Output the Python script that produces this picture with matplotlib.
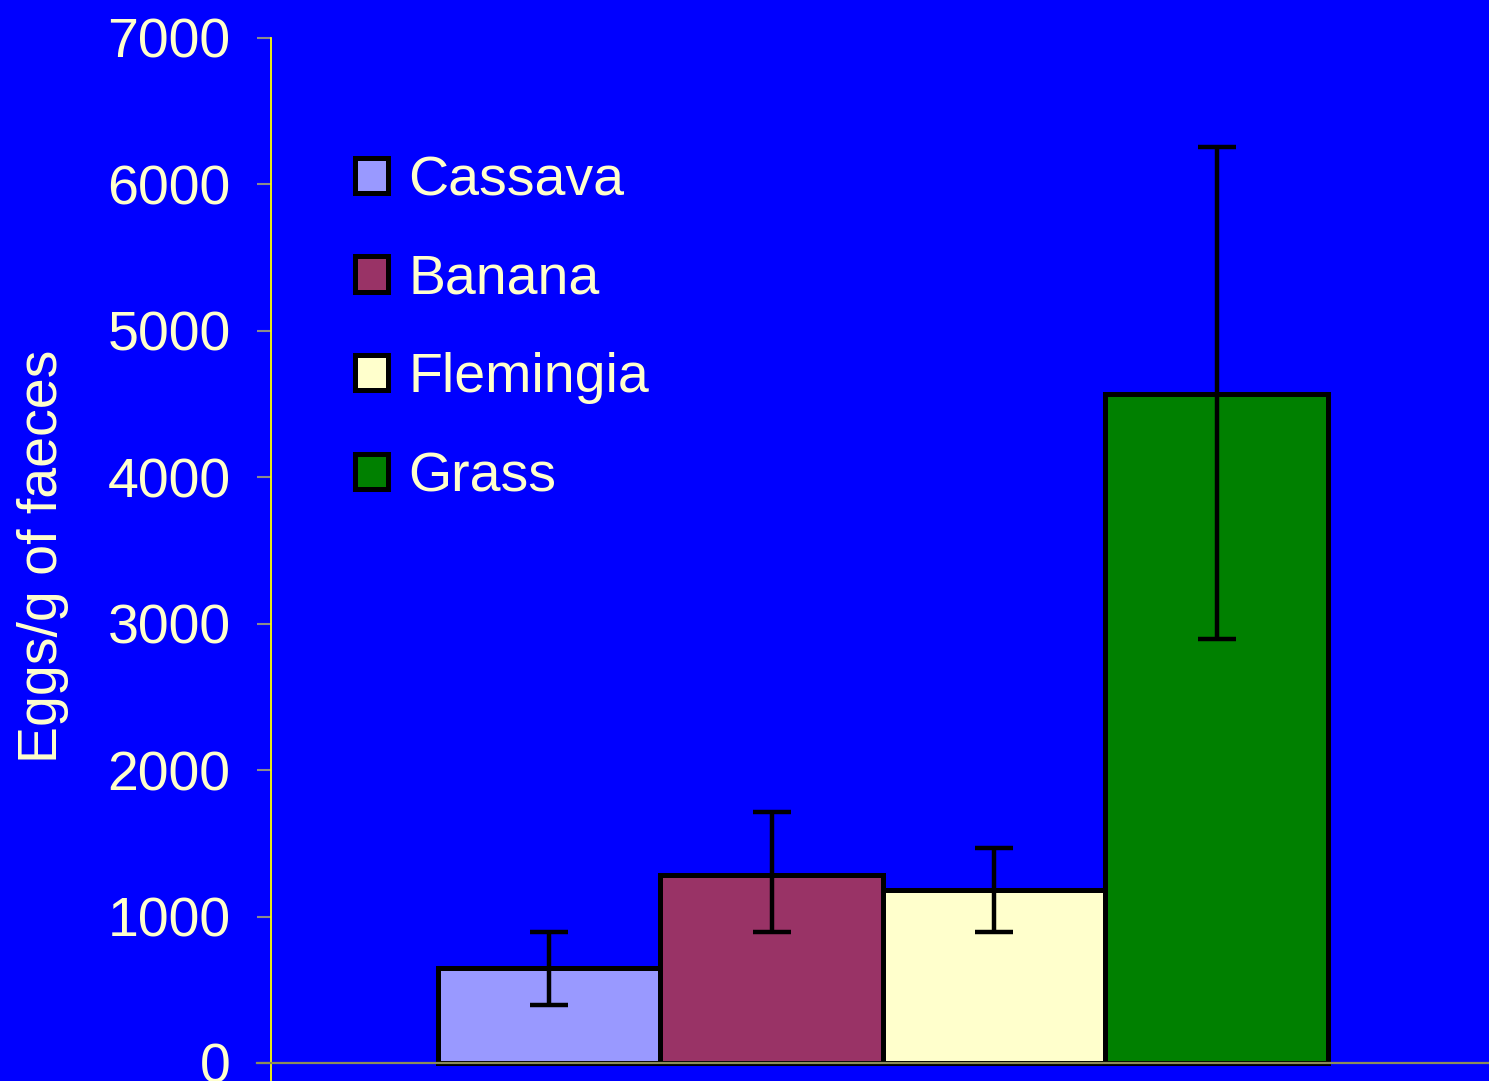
import matplotlib
matplotlib.use("Agg")
import matplotlib.pyplot as plt
from matplotlib.patches import Patch

# values
feeds = ["Cassava", "Banana", "Flemingia", "Grass"]
eggs = [649, 1284, 1181, 4569]
err_low = [396, 895, 895, 2896]
err_high = [895, 1714, 1468, 6256]
bar_colors = ["#9999FF", "#993366", "#FFFFCC", "#008000"]
yticks = [0, 1000, 2000, 3000, 4000, 5000, 6000, 7000]

bg = "#0000FF"
txt = "#FFFFCC"

plt.rcParams['font.family'] = ['Liberation Sans', 'DejaVu Sans']

fig = plt.figure(figsize=(14.89, 10.81), dpi=100, facecolor=bg)
ax = fig.add_axes([271 / 1489, 0.0, 1 - 271 / 1489, 1 - 38 / 1081])
ax.set_facecolor(bg)

x = list(range(len(feeds)))
yerr = [[m - lo for m, lo in zip(eggs, err_low)],
        [hi - m for m, hi in zip(eggs, err_high)]]

ax.bar(x, eggs, width=1.0, color=bar_colors, edgecolor="black",
       linewidth=3.6, zorder=2)
ax.errorbar(x, eggs, yerr=yerr, fmt="none", ecolor="black", elinewidth=3.2,
            capsize=13.5, capthick=3.2, zorder=3)

# grey baseline at zero, running from the tick mark to the right edge
ax.plot([-0.0115, 1], [0, 0], color="#8C8C5A", linewidth=1.6,
        transform=ax.get_yaxis_transform(), clip_on=False, zorder=4)

ax.set_xlim(-1.25, -1.25 + 1218 / 222.5)
ax.set_ylim(-123, 7000)
ax.set_yticks(yticks)
ax.set_yticklabels([str(t) for t in yticks])
ax.set_xticks([])

for s in ["top", "right", "bottom"]:
    ax.spines[s].set_visible(False)
ax.spines["left"].set_color("#FFFF00")
ax.spines["left"].set_linewidth(1.3)

ax.tick_params(axis="y", direction="out", length=10, width=1.5,
               color="#8C8C8C", labelcolor=txt, labelsize=40, pad=19)

ax.set_ylabel("Eggs/g of faeces", color=txt, fontsize=40)
ax.yaxis.set_label_coords(-0.166, 0.503)

handles = [Patch(facecolor=c, edgecolor="black", linewidth=3.6) for c in bar_colors]
leg = ax.legend(handles, feeds, loc="upper left",
                bbox_to_anchor=((355 - 271) / 1218, (1081 - 155) / 1043),
                frameon=False, fontsize=40, handlelength=0.6, handleheight=0.6,
                handletextpad=0.36, labelspacing=0.84, borderpad=0,
                borderaxespad=0)
for t in leg.get_texts():
    t.set_color(txt)

fig.savefig("out.png", dpi=100, facecolor=bg)
